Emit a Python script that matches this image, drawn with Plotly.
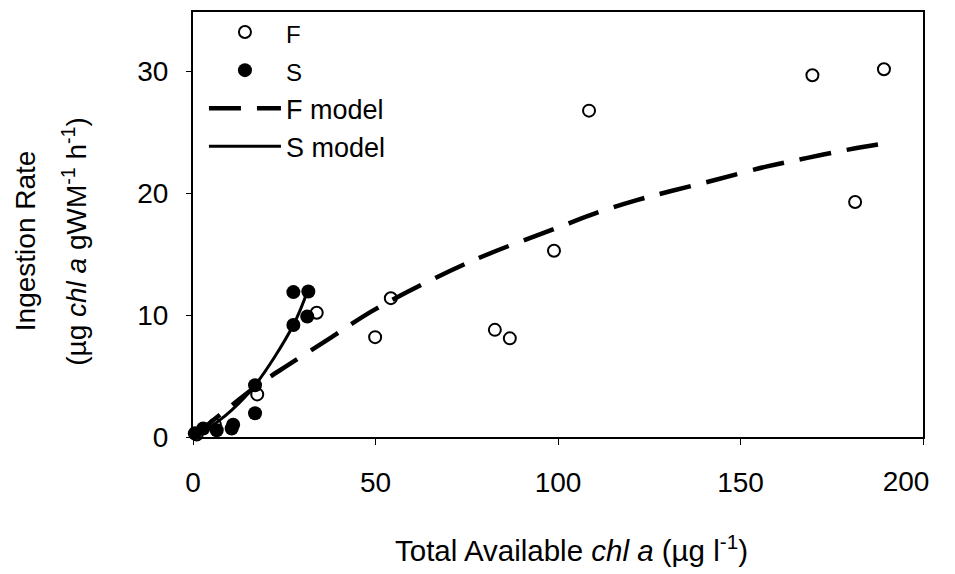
import plotly.graph_objects as go

# F data (open circles)
f_x = [1.0, 6.0, 17.6, 33.9, 49.9, 54.2, 82.7, 86.8, 98.9, 108.5, 169.7, 181.4, 189.3]
f_y = [0.2, 1.0, 3.5, 10.2, 8.2, 11.4, 8.8, 8.1, 15.3, 26.8, 29.7, 19.3, 30.2]
# S data (filled circles)
s_x = [0.5, 2.8, 6.5, 10.6, 11.0, 17.0, 17.0, 27.5, 27.5, 31.3, 31.6]
s_y = [0.3, 0.7, 0.55, 0.7, 1.0, 1.95, 4.25, 9.2, 11.9, 9.9, 11.95]
# F model (dashed)
fm_x = [0.5, 17.5, 26, 38, 50, 76, 100, 111.5, 121.6, 131, 143, 157, 168, 179.5, 189.5]
fm_y = [0.15, 4.2, 5.9, 8.2, 10.5, 14.4, 17.2, 18.5, 19.45, 20.2, 21.1, 22.2, 22.9, 23.6, 24.1]
# S model (solid)
sm_x = [0.5, 2.8, 6.5, 10.6, 17.0, 27.5, 31.4]
sm_y = [0.1, 0.5, 1.2, 2.2, 4.25, 9.2, 12.0]

x_ticks = [0, 50, 100, 150, 200]
x_ticktext = ["0", "50", "100", "150", ""]
x_last_tick = [200]
x_last_text = ["200"]
y_ticks = [0, 10, 20, 30]

FONT = "Arial, Liberation Sans, sans-serif"
X_RANGE = [0, 200]

fig = go.Figure()
fig.add_trace(go.Scatter(x=f_x, y=f_y, mode="markers",
                         name='<span style="font-size:24px">F</span>', legendgroup="a",
                         cliponaxis=False,
                         marker=dict(symbol="circle-open", size=12, color="black",
                                     line=dict(width=2, color="black"))))
fig.add_trace(go.Scatter(x=s_x, y=s_y, mode="markers",
                         name='<span style="font-size:24px">S</span>', legendgroup="b",
                         cliponaxis=False,
                         marker=dict(symbol="circle", size=14, color="black")))
fig.add_trace(go.Scatter(x=fm_x, y=fm_y, mode="lines", name="F model", legendgroup="c",
                         line=dict(color="black", width=4.5, dash="32px,16px", shape="spline")))
fig.add_trace(go.Scatter(x=sm_x, y=sm_y, mode="lines", name="S model", legendgroup="d",
                         line=dict(color="black", width=3, shape="spline")))
# invisible helper trace so the secondary x axis (shifted last label) is drawn
fig.add_trace(go.Scatter(x=x_last_tick, y=[None], xaxis="x2", yaxis="y",
                         mode="markers", showlegend=False, hoverinfo="skip"))

fig.update_layout(
    width=947, height=566,
    margin=dict(l=185, r=32, t=4, b=137, autoexpand=False),
    paper_bgcolor="white", plot_bgcolor="white",
    font=dict(family=FONT, color="black"),
    showlegend=True,
    legend=dict(x=0.015, y=1.0094, xanchor="left", yanchor="top",
                font=dict(size=27, family=FONT), bgcolor="rgba(0,0,0,0)",
                traceorder="grouped", tracegroupgap=0, itemwidth=72),
    xaxis=dict(range=X_RANGE, tickvals=x_ticks, ticktext=x_ticktext, ticks="outside", ticklen=6,
               tickcolor="black", showline=True, linecolor="black", linewidth=2,
               mirror=True, showgrid=False, zeroline=False,
               tickfont=dict(size=28, family=FONT), ticklabelstandoff=13),
    xaxis2=dict(range=X_RANGE, overlaying="x", anchor="y", side="bottom",
                tickvals=x_last_tick, ticktext=x_last_text, ticks="outside", ticklen=6,
                tickcolor="rgba(0,0,0,0)", showline=False, showgrid=False, zeroline=False,
                tickfont=dict(size=28, family=FONT), ticklabelstandoff=13,
                ticklabelshift=-17),
    yaxis=dict(range=[0, 34.9], tickvals=y_ticks, ticks="outside", ticklen=5,
               tickcolor="black", showline=True, linecolor="black", linewidth=2,
               mirror=True, showgrid=False, zeroline=False,
               tickfont=dict(size=28, family=FONT), ticklabelstandoff=12),
    annotations=[
        dict(text="Ingestion Rate",
             xref="paper", yref="paper", x=-0.2300, y=0.461, xanchor="center", yanchor="middle",
             textangle=-90, showarrow=False, font=dict(size=28, family=FONT)),
        dict(text="(µg <i>chl a</i> gWM<sup>-1</sup> h<sup>-1</sup>)",
             xref="paper", yref="paper", x=-0.1620, y=0.461, xanchor="center", yanchor="middle",
             textangle=-90, showarrow=False, font=dict(size=28, family=FONT)),
        dict(text="Total Available <i>chl a</i> (µg l<sup>-1</sup>)",
             xref="paper", yref="paper", x=0.519, y=-0.262, xanchor="center", yanchor="middle",
             showarrow=False, font=dict(size=29.5, family=FONT)),
    ],
)

fig.write_html("out.html")
